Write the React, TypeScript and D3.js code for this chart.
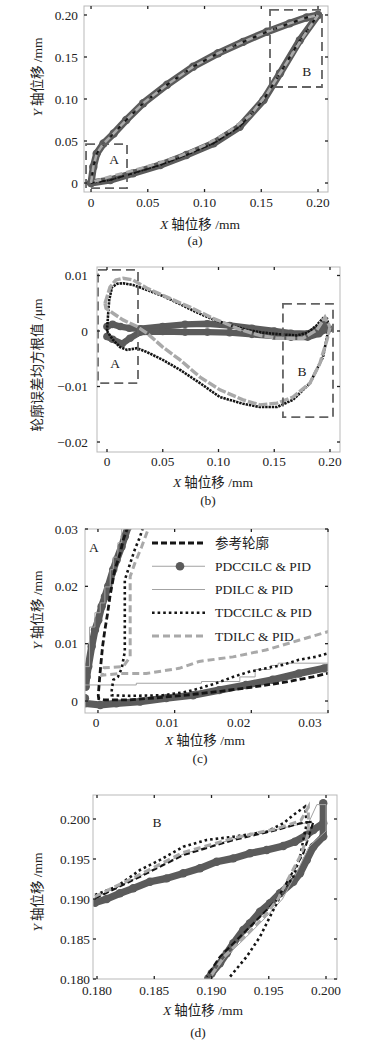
import React from 'react';
import * as d3 from 'd3';

type Pt = [number, number];
type Sc = d3.ScaleLinear<number, number>;

const SERIF = '"Liberation Serif", "Times New Roman", serif';
const CJK = '"Noto Sans CJK SC", "Noto Sans CJK JP", sans-serif';

const DARK = '#5b5b5b';
const LIGHT = '#a9a9a9';
const THIN = '#a3a3a3';
const INK = '#151515';

const seriesNames = ['参考轮廓', 'PDCCILC & PID', 'PDILC & PID', 'TDCCILC & PID', 'TDILC & PID'];

// ---------- (a) whole contour, mm
const ticksA = [0, 0.05, 0.1, 0.15, 0.2];
const tickLabelsA = ['0', '0.05', '0.10', '0.15', '0.20'];
const refUpperA: Pt[] = [
  [0, 0], [0.002, 0.019], [0.005, 0.035], [0.011, 0.047], [0.02, 0.059], [0.031, 0.075],
  [0.046, 0.095], [0.067, 0.117], [0.09, 0.1385], [0.112, 0.1545], [0.134, 0.168],
  [0.155, 0.18], [0.175, 0.19], [0.19, 0.197], [0.2, 0.2],
];
const refLowerA: Pt[] = [
  [0, 0], [0.017, 0.0036], [0.037, 0.0115], [0.061, 0.0214], [0.084, 0.0333], [0.108, 0.0472],
  [0.131, 0.067], [0.152, 0.0988], [0.1665, 0.1306], [0.184, 0.17], [0.2, 0.2],
];
const tdilcLowerA: Pt[] = [
  [0.003, 0.002], [0.02, 0.009], [0.04, 0.016], [0.06, 0.024], [0.08, 0.033], [0.1, 0.045],
  [0.12, 0.06], [0.14, 0.08], [0.155, 0.106], [0.17, 0.138], [0.185, 0.17], [0.2, 0.2],
];
const zonesA = [
  { name: 'A', x: [-0.0044, 0.0317], y: [-0.006, 0.0464], at: [0.0203, 0.0286] },
  { name: 'B', x: [0.1577, 0.2035], y: [0.1143, 0.206], at: [0.19, 0.1333] },
];

// ---------- (b) contour error
const xTicksB = [0, 0.05, 0.1, 0.15, 0.2];
const xTickLabelsB = ['0', '0.05', '0.10', '0.15', '0.20'];
const yTicksB = [0.01, 0, -0.01, -0.02];
const yTickLabelsB = ['0.01', '0', '\u22120.01', '\u22120.02'];
const pdccUpperB: Pt[] = [
  [0, 0.0008], [0.005, 0.0012], [0.012, 0.0008], [0.02, 0.0005], [0.03, 0.0004], [0.05, 0.0008],
  [0.07, 0.0012], [0.09, 0.0013], [0.11, 0.001], [0.13, 0.0005], [0.15, 0], [0.165, -0.0004],
  [0.18, -0.0005], [0.19, 0.0005], [0.195, 0.0012], [0.199, 0.0004],
];
const pdccLowerB: Pt[] = [
  [0, -0.001], [0.005, -0.0015], [0.0135, -0.0023], [0.0206, -0.0013], [0.03, -0.0002],
  [0.05, -0.0001], [0.07, -0.0002], [0.09, -0.0002], [0.11, -0.0003], [0.13, -0.0006],
  [0.15, -0.0009], [0.165, -0.0011], [0.18, -0.0011], [0.19, -0.0005], [0.195, 0.0002], [0.199, 0.0004],
];
const tdccUpperB: Pt[] = [
  [0, 0], [0.001, 0.003], [0.002, 0.0056], [0.0045, 0.0079], [0.009, 0.0085], [0.0143, 0.0086],
  [0.0233, 0.0083], [0.0359, 0.0074], [0.05, 0.0063], [0.065, 0.0049], [0.08, 0.0034],
  [0.095, 0.0021], [0.11, 0.0011], [0.125, 0.0002], [0.14, -0.0003], [0.155, -0.0006],
  [0.17, -0.0008], [0.18, -0.0003], [0.188, 0.001], [0.1937, 0.0023], [0.1973, 0.0022], [0.2, 0.0002],
];
const tdccLowerB: Pt[] = [
  [0, 0], [0.0054, -0.0016], [0.0117, -0.0029], [0.018, -0.0034], [0.027, -0.0031],
  [0.0359, -0.0038], [0.05, -0.0052], [0.0655, -0.007], [0.0834, -0.0094], [0.1013, -0.0119],
  [0.122, -0.0131], [0.137, -0.0137], [0.1525, -0.0137], [0.1668, -0.0124], [0.182, -0.0094],
  [0.1937, -0.0047], [0.198, -0.0004], [0.2, 0.0002],
];
const tdilcUpperB: Pt[] = [
  [-0.0018, 0.005], [0.0027, 0.0079], [0.008, 0.0092], [0.0143, 0.0095], [0.0233, 0.0092],
  [0.0359, 0.0077], [0.0538, 0.0061], [0.0744, 0.0043], [0.0951, 0.0023], [0.119, 0.0003],
  [0.1372, -0.0008], [0.1525, -0.0013], [0.1758, -0.0013], [0.1883, 0.0002], [0.1955, 0.0025], [0.2, 0.0007],
];
const tdilcLowerB: Pt[] = [
  [-0.0018, 0.005], [-0.0009, 0.0041], [0.0054, 0.0032], [0.0143, 0.002], [0.027, 0.0008],
  [0.0359, -0.0004], [0.05, -0.0029], [0.0655, -0.0052], [0.0834, -0.0083], [0.1013, -0.0106],
  [0.122, -0.0124], [0.137, -0.0133], [0.1525, -0.013], [0.1668, -0.0119], [0.182, -0.0094],
  [0.191, -0.0058], [0.1973, -0.0016], [0.2, 0.0007],
];
const zonesB = [
  { name: 'A', x: [-0.0081, 0.0278], y: [-0.0094, 0.011], at: [0.0072, -0.0058] },
  { name: 'B', x: [0.1578, 0.2027], y: [-0.0155, 0.0049], at: [0.1749, -0.0072] },
];

// ---------- (c) zoom on A
const ticksC = [0, 0.01, 0.02, 0.03];
const tickLabelsC = ['0', '0.01', '0.02', '0.03'];
const refC: Pt[] = [
  [0.0305, 0.005], [0.028, 0.0042], [0.024, 0.0032], [0.02, 0.0024], [0.016, 0.0017], [0.012, 0.0011],
  [0.008, 0.0006], [0.004, 0.0002], [0.0008, 0.0002], [0.0001, 0.0004], [0.00004, 0.001],
  [0.0002, 0.0037], [0.00035, 0.006], [0.0006, 0.0095], [0.0009, 0.0124], [0.00126, 0.0153],
  [0.00156, 0.0182], [0.0022, 0.0229], [0.0029, 0.0258], [0.0033, 0.0281], [0.0039, 0.0304],
];
const pdccUpperC: Pt[] = [
  [-0.0016, 0.0025], [-0.00147, 0.0042], [-0.00126, 0.006], [-0.00082, 0.0095], [-0.00039, 0.0124],
  [0.00004, 0.0141], [0.00048, 0.0165], [0.00091, 0.0182], [0.00134, 0.02], [0.00199, 0.0229],
  [0.00243, 0.0246], [0.00308, 0.0269], [0.00351, 0.0287], [0.00394, 0.0304],
];
const pdccLowerC: Pt[] = [
  [-0.0017, 0.0005], [-0.0017, -0.0004], [0.0003, -0.0007], [0.0024, -0.0004], [0.0055, -0.0001],
  [0.0089, 0.0005], [0.0124, 0.001], [0.0158, 0.0019], [0.0193, 0.0028], [0.0228, 0.0037],
  [0.0262, 0.0048], [0.0295, 0.0057], [0.0305, 0.006],
];
const pdilcUpperC: Pt[] = [
  [-0.0019, 0.0025], [-0.0019, 0.006], [-0.0011, 0.0129], [-0.0004, 0.0154], [0.0003, 0.0171],
  [0.0009, 0.0199], [0.0016, 0.0229], [0.002, 0.0251], [0.0026, 0.0276], [0.0031, 0.0304],
];
const pdilcLowerC: Pt[] = [
  [-0.0017, 0.0028], [0.005, 0.0031], [0.0135, 0.0034], [0.0185, 0.0042], [0.0205, 0.0055],
  [0.0225, 0.0062], [0.0235, 0.0066], [0.031, 0.0066],
];
const tdccC: Pt[] = [
  [0.0305, 0.0085], [0.0284, 0.0077], [0.0262, 0.0072], [0.0241, 0.0063], [0.0219, 0.0057],
  [0.0197, 0.0051], [0.0176, 0.0042], [0.0154, 0.0031], [0.0132, 0.0022], [0.0115, 0.0016],
  [0.0085, 0.001], [0.0042, 0.0009], [0.0018, 0.001], [0.0018, 0.0019], [0.002, 0.0037],
  [0.0026, 0.0042], [0.0031, 0.0057], [0.0035, 0.0086], [0.0035, 0.0211], [0.0042, 0.024],
  [0.0048, 0.0264], [0.0055, 0.0287], [0.0059, 0.0304],
];
const tdilcC: Pt[] = [
  [0.0305, 0.0123], [0.0262, 0.0106], [0.0219, 0.0089], [0.0176, 0.0077], [0.0132, 0.0069],
  [0.0106, 0.0057], [0.0063, 0.0048], [0.003, 0.0048], [0.0005, 0.0045], [0.0008, 0.0058],
  [0.0033, 0.006], [0.0042, 0.0077], [0.0042, 0.0217], [0.0048, 0.024], [0.0057, 0.0269],
  [0.0065, 0.0298], [0.0068, 0.0305],
];
const markC = { name: 'A', at: [-0.00052, 0.0269] };

// ---------- (d) zoom on B
const ticksD = [0.18, 0.185, 0.19, 0.195, 0.2];
const tickLabelsD = ['0.180', '0.185', '0.190', '0.195', '0.200'];
const refD: Pt[] = [
  [0.17983, 0.19009], [0.18376, 0.19279], [0.18754, 0.1955], [0.19191, 0.19738], [0.19569, 0.19863],
  [0.19773, 0.19946], [0.1989, 0.19966], [0.19802, 0.19571], [0.19686, 0.19279], [0.19569, 0.18988],
  [0.19424, 0.18779], [0.19249, 0.18529], [0.19074, 0.18279], [0.18958, 0.18029],
];
const pdccD: Pt[] = [
  [0.17983, 0.18954], [0.18085, 0.19], [0.182, 0.19071], [0.18317, 0.19134], [0.18463, 0.19216],
  [0.18609, 0.19258], [0.18754, 0.19321], [0.189, 0.19384], [0.19045, 0.19466], [0.19191, 0.19508],
  [0.19336, 0.19571], [0.19482, 0.19613], [0.19627, 0.19663], [0.19729, 0.19716], [0.19832, 0.198],
  [0.1989, 0.19863], [0.19976, 0.19946], [0.19976, 0.20196], [0.19976, 0.1978], [0.1989, 0.19654],
  [0.19832, 0.19488], [0.19773, 0.19321], [0.19715, 0.19216], [0.19598, 0.19071], [0.19511, 0.18946],
  [0.19424, 0.18841], [0.19336, 0.18696], [0.19278, 0.18613], [0.19191, 0.18446], [0.19133, 0.18321],
  [0.19074, 0.18196], [0.19002, 0.18071], [0.18972, 0.18008],
];
const pdilcD: Pt[] = [
  [0.1798, 0.1901], [0.1838, 0.1929], [0.1875, 0.1956], [0.1919, 0.1975], [0.1957, 0.1987],
  [0.1985, 0.1996], [0.1992, 0.2018], [0.2, 0.2018], [0.2, 0.1985], [0.1985, 0.1965],
  [0.1975, 0.1935], [0.1962, 0.19], [0.1948, 0.1878], [0.193, 0.1852], [0.1912, 0.1827], [0.1899, 0.1801],
];
const tdccD: Pt[] = [
  [0.17983, 0.1905], [0.18172, 0.19154], [0.18376, 0.19363], [0.1855, 0.19488], [0.18754, 0.19654],
  [0.18958, 0.19738], [0.19191, 0.19779], [0.19482, 0.19841], [0.19627, 0.19946], [0.19715, 0.2005],
  [0.19817, 0.20154], [0.19832, 0.19946], [0.19773, 0.19529], [0.19715, 0.19279], [0.19627, 0.19113],
  [0.1954, 0.18863], [0.19424, 0.18529], [0.19307, 0.18279], [0.19162, 0.18029],
];
const tdilcD: Pt[] = [
  [0.1798, 0.1903], [0.1838, 0.1931], [0.1875, 0.1958], [0.1919, 0.1976], [0.1957, 0.1988],
  [0.1978, 0.1998], [0.19846, 0.2015], [0.19846, 0.1982], [0.1978, 0.1955], [0.1968, 0.1928],
  [0.1958, 0.19], [0.1946, 0.1878], [0.1929, 0.1853], [0.1911, 0.1828], [0.1899, 0.1803],
];
const markD = { name: 'B', at: [0.18524, 0.19963] };

// ---------- drawing helpers
const pathOf = (x: Sc, y: Sc, pts: Pt[], curve: d3.CurveFactory = d3.curveLinear) =>
  d3.line<Pt>().x(d => x(d[0])).y(d => y(d[1])).curve(curve)(pts) ?? '';

type S = { x: Sc; y: Sc; pts: Pt[]; w?: number; dash?: string; curve?: d3.CurveFactory };

const Ref = ({ x, y, pts, w = 2.4 }: S) => (
  <path d={pathOf(x, y, pts)} fill="none" stroke={INK} strokeWidth={w} strokeDasharray="6 3" />
);
const Thin = ({ x, y, pts, curve }: S) => (
  <path d={pathOf(x, y, pts, curve)} fill="none" stroke={THIN} strokeWidth={1} />
);
const Dotted = ({ x, y, pts, w = 2.4, dash }: S) => (
  <path d={pathOf(x, y, pts)} fill="none" stroke={INK} strokeWidth={w}
    strokeDasharray={dash ?? `${w} ${w + 0.4}`} />
);
const Dashed = ({ x, y, pts, w = 3, dash = '7 4' }: S) => (
  <path d={pathOf(x, y, pts)} fill="none" stroke={LIGHT} strokeWidth={w} strokeDasharray={dash} />
);
const Markers = ({ x, y, pts, r }: S & { r: number }) => (
  <g>
    <path d={pathOf(x, y, pts)} fill="none" stroke={DARK} strokeWidth={2 * r - 1.2}
      strokeLinejoin="round" strokeLinecap="round" />
    {pts.map((d, i) => <circle key={i} cx={x(d[0])} cy={y(d[1])} r={r} fill={DARK} />)}
  </g>
);

type Zone = { name: string; x: number[]; y: number[]; at: number[] };
const Zones = ({ x, y, zones }: { x: Sc; y: Sc; zones: Zone[] }) => (
  <g>
    {zones.map(z => (
      <g key={z.name}>
        <rect x={x(z.x[0])} y={y(z.y[1])} width={x(z.x[1]) - x(z.x[0])} height={y(z.y[0]) - y(z.y[1])}
          fill="none" stroke="#636363" strokeWidth={1.8} strokeDasharray="9 5" />
        <text x={x(z.at[0])} y={y(z.at[1])} dy="0.35em" textAnchor="middle" fontFamily={SERIF}
          fontSize={13.5} fill="#222">{z.name}</text>
      </g>
    ))}
  </g>
);

type AxesProps = {
  x: Sc; y: Sc; xTicks: number[]; xLabels: string[]; yTicks: number[]; yLabels: string[];
  yLabelEnd: number; xLabelBase: number; xLabelScale?: Sc; labelClip?: string;
};
function Axes(p: AxesProps) {
  const [l, r] = p.x.range();
  const [b, t] = p.y.range();
  const lx = p.xLabelScale ?? p.x;
  return (
    <g>
      <rect x={l} y={t} width={r - l} height={b - t} fill="none" stroke="#b9b9b9" strokeWidth={1} />
      <g stroke="#222" strokeWidth={1.3}>
        {p.xTicks.map(v => (
          <g key={'xt' + v}>
            <line x1={p.x(v)} x2={p.x(v)} y1={b} y2={b - 3} />
            <line x1={p.x(v)} x2={p.x(v)} y1={t} y2={t + 3} />
          </g>
        ))}
        {p.yTicks.map(v => (
          <g key={'yt' + v}>
            <line x1={l} x2={l + 3} y1={p.y(v)} y2={p.y(v)} />
            <line x1={r} x2={r - 3} y1={p.y(v)} y2={p.y(v)} />
          </g>
        ))}
      </g>
      <g fontFamily={SERIF} fontSize={13.3} fill="#222"
        clipPath={p.labelClip ? `url(#${p.labelClip})` : undefined}>
        {p.xTicks.map((v, i) => (
          <text key={'xl' + v} x={lx(v)} y={p.xLabelBase} textAnchor="middle">{p.xLabels[i]}</text>
        ))}
      </g>
      <g fontFamily={SERIF} fontSize={13.3} fill="#222">
        {p.yTicks.map((v, i) => (
          <text key={'yl' + v} x={p.yLabelEnd} y={p.y(v)} dy="0.35em" textAnchor="end">{p.yLabels[i]}</text>
        ))}
      </g>
    </g>
  );
}

const XTitle = ({ cx, cy, tag, tagY }: { cx: number; cy: number; tag: string; tagY: number }) => (
  <g fill="#222" fontSize={13.5}>
    <text x={cx} y={cy} dy="0.35em" textAnchor="middle">
      <tspan fontFamily={SERIF} fontStyle="italic">X</tspan>
      <tspan fontFamily={CJK}> 轴位移</tspan>
      <tspan fontFamily={SERIF}> /mm</tspan>
    </text>
    <text x={cx - 5} y={tagY} dy="0.35em" textAnchor="middle" fontFamily={SERIF}>{tag}</text>
  </g>
);

const YTitle = ({ cx, cy, children }: { cx: number; cy: number; children: React.ReactNode }) => (
  <text x={cx} y={cy} dy="0.35em" textAnchor="middle" fontSize={13.5} fill="#222"
    transform={`rotate(-90 ${cx} ${cy})`}>{children}</text>
);
const YPos = () => (
  <>
    <tspan fontFamily={SERIF} fontStyle="italic">Y</tspan>
    <tspan fontFamily={CJK}> 轴位移</tspan>
    <tspan fontFamily={SERIF}> /mm</tspan>
  </>
);

function Clip({ id, x, y }: { id: string; x: Sc; y: Sc }) {
  const [l, r] = x.range();
  const [b, t] = y.range();
  return <clipPath id={id}><rect x={l} y={t} width={r - l} height={b - t} /></clipPath>;
}

export default function App() {
  const xa = d3.scaleLinear().domain([-0.0062, 0.2088]).range([84, 328]);
  const ya = d3.scaleLinear().domain([-0.0107, 0.2107]).range([192, 6]);
  const xb = d3.scaleLinear().domain([-0.00897, 0.20897]).range([97, 340]);
  const yb = d3.scaleLinear().domain([-0.0218, 0.01153]).range([452, 267]);
  const xc = d3.scaleLinear().domain([-0.00169, 0.03]).range([85, 328]);
  const xcLabel = d3.scaleLinear().domain([0, 0.03]).range([96, 310]);
  const yc = d3.scaleLinear().domain([-0.00209, 0.03]).range([713, 529]);
  const xd = d3.scaleLinear().domain([0.17965, 0.20096]).range([93, 337]);
  const yd = d3.scaleLinear().domain([0.18, 0.203]).range([979, 795]);

  const legendRow = d3.scaleLinear().domain([0, 4]).range([543, 636]);

  return (
    <svg width={369} height={1043} viewBox="0 0 369 1043"
      style={{ position: 'absolute', left: 0, top: 0, display: 'block', background: '#fff' }}>
      <rect width={369} height={1043} fill="#fff" />
      <defs>
        <Clip id="clipA" x={xa} y={ya} />
        <Clip id="clipB" x={xb} y={yb} />
        <Clip id="clipC" x={xc} y={yc} />
        <Clip id="clipD" x={xd} y={yd} />
        <clipPath id="clipLabB"><rect x={0} y={440} width={343} height={40} /></clipPath>
      </defs>

      {/* (a) */}
      <g clipPath="url(#clipA)">
        <Markers x={xa} y={ya} pts={refUpperA} r={4.2} />
        <Markers x={xa} y={ya} pts={refLowerA} r={4.2} />
        <Ref x={xa} y={ya} pts={refUpperA} w={1.6} />
        <Ref x={xa} y={ya} pts={refLowerA} w={1.6} />
        <Dotted x={xa} y={ya} pts={refUpperA} w={1.8} />
        <Dotted x={xa} y={ya} pts={refLowerA} w={1.8} />
        <Dashed x={xa} y={ya} pts={refUpperA} w={2.6} />
        <Dashed x={xa} y={ya} pts={tdilcLowerA} w={2.8} />
      </g>
      <Zones x={xa} y={ya} zones={zonesA} />
      <Axes x={xa} y={ya} xTicks={ticksA} xLabels={tickLabelsA} yTicks={ticksA} yLabels={tickLabelsA}
        yLabelEnd={78} xLabelBase={207} />
      <XTitle cx={200} cy={224} tag="(a)" tagY={240} />
      <YTitle cx={37} cy={77}><YPos /></YTitle>

      {/* (b) */}
      <g clipPath="url(#clipB)">
        <Markers x={xb} y={yb} pts={pdccUpperB} r={3.8} />
        <Markers x={xb} y={yb} pts={pdccLowerB} r={3.8} />
        <Dotted x={xb} y={yb} pts={tdccUpperB} w={2.6} dash="2.4 0.9" />
        <Dotted x={xb} y={yb} pts={tdccLowerB} w={2.6} dash="2.4 0.9" />
        <Dashed x={xb} y={yb} pts={tdilcUpperB} w={3.4} dash="9 2" />
        <Dashed x={xb} y={yb} pts={tdilcLowerB} w={3.4} dash="9 2" />
      </g>
      <Zones x={xb} y={yb} zones={zonesB} />
      <Axes x={xb} y={yb} xTicks={xTicksB} xLabels={xTickLabelsB} yTicks={yTicksB} yLabels={yTickLabelsB}
        yLabelEnd={88} xLabelBase={466} labelClip="clipLabB" />
      <XTitle cx={213} cy={482} tag="(b)" tagY={500} />
      <YTitle cx={37} cy={365}>
        <tspan fontFamily={CJK}>轮廓误差均方根值</tspan>
        <tspan fontFamily={SERIF}> /μm</tspan>
      </YTitle>

      {/* (c) */}
      <g clipPath="url(#clipC)">
        <Markers x={xc} y={yc} pts={pdccUpperC} r={4.2} />
        <Markers x={xc} y={yc} pts={pdccLowerC} r={4.2} />
        <Thin x={xc} y={yc} pts={pdilcUpperC} curve={d3.curveStepAfter} />
        <Thin x={xc} y={yc} pts={pdilcLowerC} curve={d3.curveStepAfter} />
        <Ref x={xc} y={yc} pts={refC} w={2.8} />
        <Dotted x={xc} y={yc} pts={tdccC} w={2.6} />
        <Dashed x={xc} y={yc} pts={tdilcC} w={3} />
      </g>
      <text x={xc(markC.at[0])} y={yc(markC.at[1])} dy="0.35em" textAnchor="middle"
        fontFamily={SERIF} fontSize={13.5} fill="#222">{markC.name}</text>
      <g>
        {seriesNames.map((name, i) => {
          const yy = legendRow(i);
          return (
            <g key={name}>
              {i === 0 && <line x1={152} x2={205} y1={yy} y2={yy} stroke={INK} strokeWidth={2.8} strokeDasharray="6 3" />}
              {i === 1 && (
                <g>
                  <line x1={152} x2={205} y1={yy} y2={yy} stroke={THIN} strokeWidth={1} />
                  <circle cx={180} cy={yy} r={4.3} fill={DARK} />
                </g>
              )}
              {i === 2 && <line x1={152} x2={205} y1={yy} y2={yy} stroke={THIN} strokeWidth={1} />}
              {i === 3 && <line x1={152} x2={205} y1={yy} y2={yy} stroke={INK} strokeWidth={2.6} strokeDasharray="2.6 3" />}
              {i === 4 && <line x1={152} x2={205} y1={yy} y2={yy} stroke={LIGHT} strokeWidth={3} strokeDasharray="7 4" />}
              <text x={215} y={yy} dy="0.35em" fontSize={13.5} fill="#222"
                fontFamily={i === 0 ? CJK : SERIF}>{name}</text>
            </g>
          );
        })}
      </g>
      <Axes x={xc} y={yc} xTicks={ticksC} xLabels={tickLabelsC} yTicks={ticksC} yLabels={tickLabelsC}
        yLabelEnd={78} xLabelBase={727} xLabelScale={xcLabel} />
      <XTitle cx={205} cy={740} tag="(c)" tagY={758} />
      <YTitle cx={37} cy={610}><YPos /></YTitle>

      {/* (d) */}
      <g clipPath="url(#clipD)">
        <Markers x={xd} y={yd} pts={pdccD} r={4.2} />
        <Thin x={xd} y={yd} pts={pdilcD} />
        <Ref x={xd} y={yd} pts={refD} w={2.2} />
        <Dotted x={xd} y={yd} pts={tdccD} w={2.6} />
        <Dashed x={xd} y={yd} pts={tdilcD} w={3} />
      </g>
      <text x={xd(markD.at[0])} y={yd(markD.at[1])} dy="0.35em" textAnchor="middle"
        fontFamily={SERIF} fontSize={13.5} fill="#222">{markD.name}</text>
      <Axes x={xd} y={yd} xTicks={ticksD} xLabels={tickLabelsD} yTicks={ticksD} yLabels={tickLabelsD}
        yLabelEnd={90} xLabelBase={995} />
      <XTitle cx={203} cy={1010} tag="(d)" tagY={1032} />
      <YTitle cx={37} cy={892}><YPos /></YTitle>
    </svg>
  );
}
